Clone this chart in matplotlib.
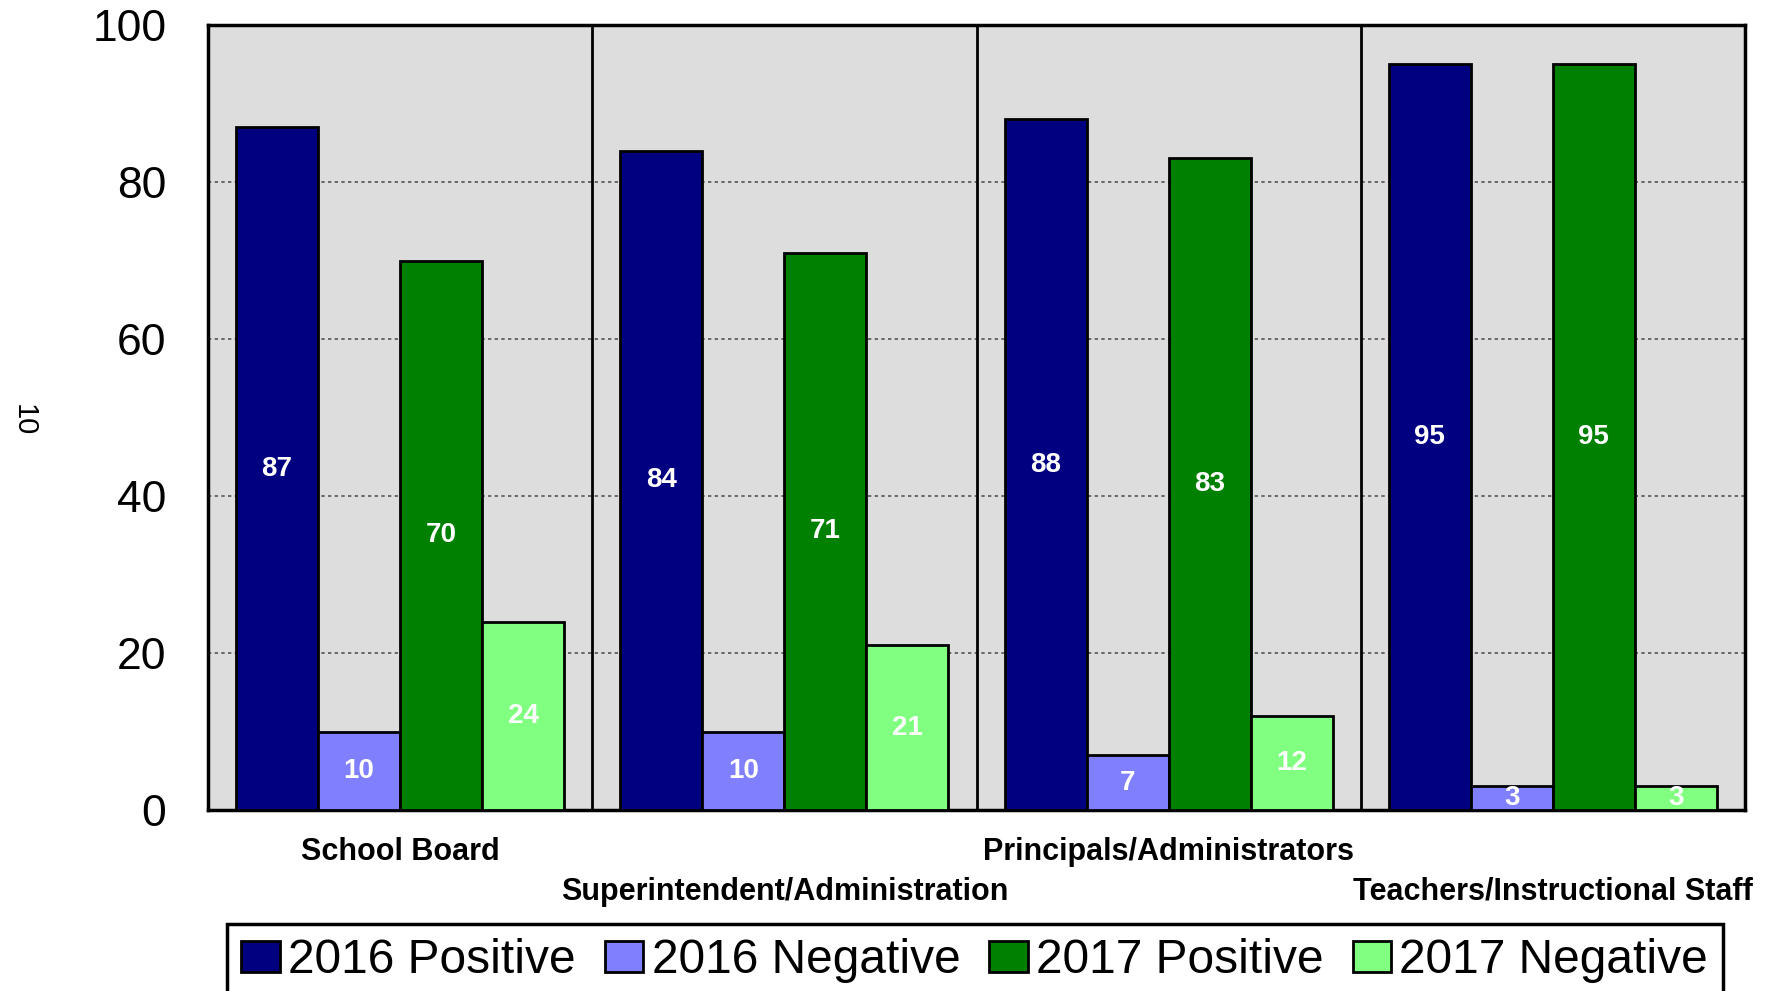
import numpy as np
import matplotlib
matplotlib.use("Agg")
import matplotlib.pyplot as plt

# data
categories = ['School Board', 'Superintendent/Administration',
              'Principals/Administrators', 'Teachers/Instructional Staff']
series_names = ['2016 Positive', '2016 Negative', '2017 Positive', '2017 Negative']
pos_2016 = [87, 84, 88, 95]
neg_2016 = [10, 10, 7, 3]
pos_2017 = [70, 71, 83, 95]
neg_2017 = [24, 21, 12, 3]
colors = ['#000080', '#8080FF', '#008000', '#80FF80']

plt.rcParams['font.family'] = ['Liberation Sans', 'DejaVu Sans']

fig = plt.figure(figsize=(17.77, 9.91), dpi=100)
ax = fig.add_axes([208 / 1777, 1 - 810 / 991, 1537 / 1777, 785 / 991])
ax.set_facecolor('#DDDDDD')

x = np.arange(len(categories))
width = 0.2135
offsets = np.array([-1.5, -0.5, 0.5, 1.5]) * width
handles = []
for vals, off, col, name in zip([pos_2016, neg_2016, pos_2017, neg_2017],
                                offsets, colors, series_names):
    bars = ax.bar(x + off, vals, width, color=col, edgecolor='black',
                  linewidth=2, label=name, zorder=3)
    ax.bar_label(bars, label_type='center', color='white',
                 fontsize=20, fontweight='bold')
    handles.append(bars)

# group separators
for b in [0.5, 1.5, 2.5]:
    ax.axvline(b, color='black', linewidth=2, zorder=2)

ax.set_xlim(-0.5, 3.5)
ax.set_ylim(0, 100)
ax.set_yticks([0, 20, 40, 60, 80, 100])
ax.tick_params(axis='y', labelsize=32, length=0, pad=30)
ax.set_xticks([])
ax.yaxis.grid(True, color='#555555', linestyle=(0, (2, 2)), linewidth=1.2, zorder=1)
ax.set_axisbelow(True)
for sp in ax.spines.values():
    sp.set_linewidth(2.5)

# staggered category labels
trans = ax.get_xaxis_transform()
for i, cat in enumerate(categories):
    yy = -0.054 if i % 2 == 0 else -0.104
    ax.text(i, yy, cat, transform=trans, ha='center', va='center',
            fontsize=22, fontweight='bold')

fig.text(24 / 1777, 1 - 420 / 991, '10', rotation=270, fontsize=21,
         ha='center', va='center')

leg = fig.legend(handles=handles, loc='upper left',
                 bbox_to_anchor=(227 / 1777, 1 - 924 / 991), ncol=4,
                 fontsize=34.5, frameon=True, fancybox=False, framealpha=1,
                 edgecolor='black', handlelength=0.8, handleheight=0.62,
                 handletextpad=0.18, columnspacing=0.6, borderpad=0.3,
                 borderaxespad=0)
leg.get_frame().set_linewidth(2.5)

fig.savefig('out.png', dpi=100)
